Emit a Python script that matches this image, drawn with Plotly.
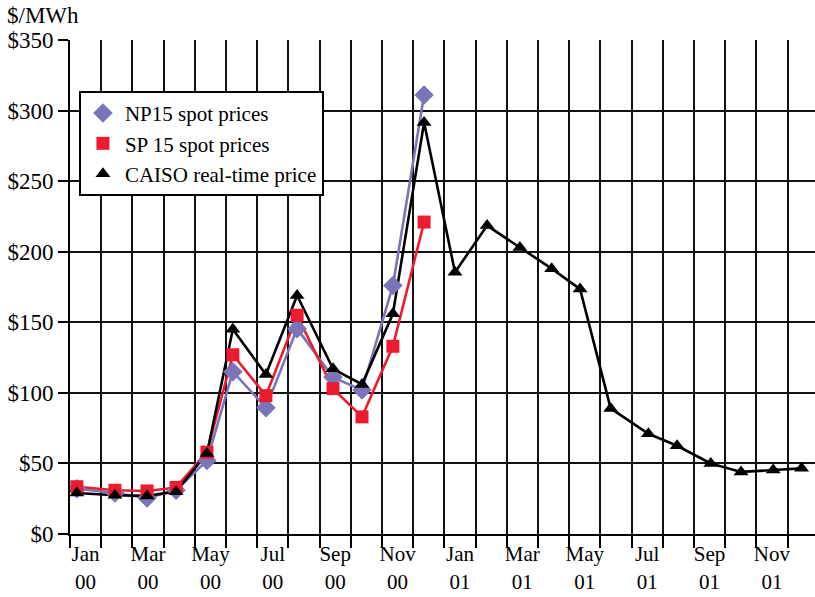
import plotly.graph_objs as go

# month labels shown on the x axis (every other month)
tick_months = ['Jan', 'Mar', 'May', 'Jul', 'Sep', 'Nov', 'Jan', 'Mar', 'May', 'Jul', 'Sep', 'Nov']
tick_years = ['00'] * 6 + ['01'] * 6

# position of each monthly point, in months from Jan 2000
month_pos = [0.22, 1.44, 2.47, 3.40, 4.39, 5.22, 6.28, 7.28, 8.43, 9.36, 10.35, 11.35,
             12.34, 13.37, 14.42, 15.44, 16.35, 17.33, 18.54, 19.46, 20.54, 21.51, 22.54, 23.45]

np15 = [32, 29, 25.5, 31, 52, 115, 89.5, 145.5, 111, 102, 176, 311]
sp15 = [33.5, 31, 30.5, 33, 58, 127, 98, 155, 103, 83, 133, 221]
caiso = [29, 27.5, 27, 30, 57, 145, 113, 169, 117, 106, 156, 291.5,
         185.5, 218.5, 203, 188, 173.5, 89, 71, 62.5, 50, 44, 45.3, 46.5]

FONT = 'Liberation Serif'
series = [
    ('NP15 spot prices', np15, '#7b74b8', 'diamond', 15),
    ('SP 15 spot prices', sp15, '#ec1c2e', 'square', 13),
    ('CAISO real-time price', caiso, '#000000', 'triangle-up', 13),
]

fig = go.Figure()
for name, vals, color, symbol, size in series:
    fig.add_trace(go.Scatter(x=month_pos[:len(vals)], y=vals, mode='lines', name=name,
                             line=dict(color=color, width=2.6), showlegend=False,
                             hoverinfo='skip'))
for name, vals, color, symbol, size in series:
    fig.add_trace(go.Scatter(x=month_pos[:len(vals)], y=vals, mode='markers', name=name,
                             marker=dict(color=color, symbol=symbol, size=size,
                                         line=dict(width=0))))

tickvals = [i * 2 + 0.5 for i in range(len(tick_months))]
ticktext = [f'{m}<br>{y}' for m, y in zip(tick_months, tick_years)]

fig.update_xaxes(
    range=[0, 23.88], tickvals=tickvals, ticktext=ticktext, ticks='',
    automargin=False,
    showgrid=False, zeroline=False, showline=True, linecolor='black', linewidth=2,
    tickfont=dict(family=FONT, size=21, color='black'),
    minor=dict(tickvals=list(range(0, 24)), showgrid=True, gridcolor='#111111', gridwidth=2,
               ticks='outside', ticklen=12, tickcolor='black', tickwidth=2),
)
fig.update_yaxes(
    range=[0, 350], tickvals=list(range(0, 351, 50)),
    ticktext=[f'${v}' for v in range(0, 351, 50)],
    automargin=False,
    ticks='outside', ticklen=10, tickwidth=2, tickcolor='black',
    showgrid=True, gridcolor='#111111', gridwidth=2, zeroline=False,
    showline=True, linecolor='black', linewidth=2,
    tickfont=dict(family=FONT, size=23, color='black'),
)
fig.update_layout(
    width=815, height=597,
    margin=dict(l=70, r=0, t=40, b=63),
    paper_bgcolor='white', plot_bgcolor='white',
    font=dict(family=FONT, color='black'),
    legend=dict(x=0.012, y=0.897, xanchor='left', yanchor='top',
                bgcolor='white', bordercolor='black', borderwidth=2,
                font=dict(family=FONT, size=21, color='black'),
                tracegroupgap=0, itemwidth=34),
    annotations=[dict(text='$/MWh', xref='paper', yref='paper', x=-0.087, y=1.05,
                      xanchor='left', yanchor='middle', showarrow=False,
                      font=dict(family=FONT, size=23, color='black'))],
    showlegend=True,
)

# drop the browser's default 8px page margin so the figure fills the window
fig.write_html('out.html', config={'displayModeBar': False},
               post_script="document.body.style.margin='0';")
